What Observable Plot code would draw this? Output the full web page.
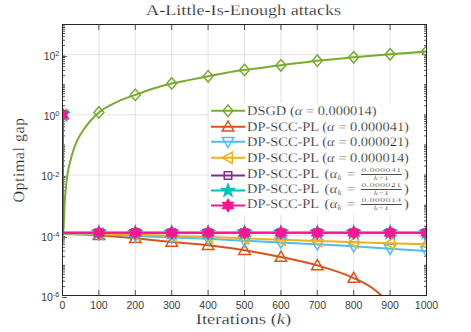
<!DOCTYPE html>
<html><head><meta charset="utf-8">
<script src="https://cdn.jsdelivr.net/npm/d3@7"></script>
<script src="https://cdn.jsdelivr.net/npm/@observablehq/plot@0.6"></script>
<style>
body{margin:0;background:#fff}
#wrap{position:relative;width:471px;height:332px;overflow:hidden}
.serif{font-family:"Liberation Serif","Times New Roman",serif;color:#262626;white-space:nowrap;text-rendering:geometricPrecision;-webkit-text-stroke:0.2px #fff}
#title{position:absolute;left:62px;width:364px;top:2px;text-align:center;font-size:15px;line-height:18px}
#title span{display:inline-block;transform:scaleX(1.21)}
#xlab{position:absolute;left:62px;width:364px;top:311px;text-align:center;font-size:15px;line-height:18px}
#xlab span{display:inline-block;transform:scaleX(1.24)}
#ylab{position:absolute;left:-80px;width:200px;top:150.5px;text-align:center;font-size:16px;line-height:18px;letter-spacing:0.5px;transform:rotate(-90deg)}
#legend{position:absolute;left:209px;top:103px;width:215px;height:112px;background:#fff}
.row{display:flex;align-items:center;height:15.5px}
.row.f{height:15px}
.row.first{margin-top:2.5px}
.row svg{flex:none}
.txt{display:inline-block;font-size:13px;line-height:13px;transform:scaleX(1.11);transform-origin:left center}
.frac{display:inline-flex;flex-direction:column;vertical-align:middle;font-size:7.5px;line-height:6px;text-align:center;margin:0 4px 0 6px;position:relative;top:-0.5px;transform:scale(1.15,0.82)}
.frac .num{border-bottom:0.8px solid #262626;padding:0 0.5px 1.2px;letter-spacing:0.4px}
.frac .den{padding-top:1.2px;letter-spacing:0.3px}
.paren{font-size:13px;vertical-align:0;margin:0 0.5px}
.paren.l{margin-left:2px}
.eq{margin:0 1.5px}
sub{font-size:8px;vertical-align:-2px;line-height:0}
</style>
</head><body>
<div id="wrap">
  <div id="chart"></div>
  <div id="title" class="serif"><span>A-Little-Is-Enough attacks</span></div>
  <div id="xlab" class="serif"><span>Iterations (<i>k</i>)</span></div>
  <div id="ylab" class="serif">Optimal gap</div>
  <div id="legend" class="serif"></div>
</div>
<script>
// ---------- data ----------
const seriesNames = [
  "DSGD (α = 0.000014)",
  "DP-SCC-PL (α = 0.000041)",
  "DP-SCC-PL (α = 0.000021)",
  "DP-SCC-PL (α = 0.000014)",
  "DP-SCC-PL (α_k = 0.000041/(k+1))",
  "DP-SCC-PL (α_k = 0.000021/(k+1))",
  "DP-SCC-PL (α_k = 0.000014/(k+1))"
];
const seriesColors = ["#77AC30","#D95319","#4DBEEE","#EDB120","#7E2F8E","#00BFBF","#FF1493"];
const xTicks = [0,100,200,300,400,500,600,700,800,900,1000];
const yTicks = [1e-6,1e-4,1e-2,1e0,1e2];
const yTickLabels = ["10^-6","10^-4","10^-2","10^0","10^2"];

const dsgdK   = [0,3,6,10,14,20,32,45,60,80,100,150,200,250,300,350,400,450,500,600,700,800,900,1000];
const dsgdGap = [5e-5,2e-4,1.2e-3,4.5e-3,1.1e-2,2.5e-2,8e-2,0.18,0.35,0.7,1.2,2.7,4.6,7.5,11,14.5,19,25,31,44,63,81,102,126];
const dsgdMarkK = [100,200,300,400,500,600,700,800,900,1000];

const plK   = [0,1,100,200,300,400,500,600,700,800,900,1000];
const plMarkK = [0,100,200,300,400,500,600,700,800,900,1000];
const pl041K   = [0,1,100,200,300,400,500,600,700,800,850,880,900,1000];
const pl041Gap = [1,1.17e-4,1.0e-4,7.9e-5,6.0e-5,4.7e-5,3.2e-5,1.9e-5,1.0e-5,3.8e-6,1.8e-6,9e-7,5e-7,1e-8];
const pl021Gap = [1,1.17e-4,1.07e-4,9.5e-5,8.5e-5,7.6e-5,6.6e-5,5.8e-5,5.0e-5,4.3e-5,3.6e-5,3.0e-5];
const pl014Gap = [1,1.2e-4,1.12e-4,1.05e-4,9.5e-5,8.7e-5,7.9e-5,7.1e-5,6.5e-5,5.9e-5,5.4e-5,5.0e-5];
const dim041Gap = [1,1.22e-4,1.22e-4,1.22e-4,1.22e-4,1.22e-4,1.22e-4,1.22e-4,1.22e-4,1.22e-4,1.22e-4,1.22e-4];
const dim021Gap = [1,1.22e-4,1.22e-4,1.22e-4,1.22e-4,1.22e-4,1.22e-4,1.22e-4,1.22e-4,1.22e-4,1.22e-4,1.22e-4];
const dim014Gap = [1,1.22e-4,1.22e-4,1.22e-4,1.22e-4,1.22e-4,1.22e-4,1.22e-4,1.22e-4,1.22e-4,1.22e-4,1.22e-4];

// ---------- symbols ----------
function poly(pts){return {draw(ctx,size){const r=Math.sqrt(size/Math.PI);pts.forEach(([x,y],i)=>i?ctx.lineTo(x*r,y*r):ctx.moveTo(x*r,y*r));ctx.closePath();}};}
function star(n,outer,inner){const pts=[];for(let i=0;i<2*n;i++){const a=-Math.PI/2+i*Math.PI/n;const R=i%2?inner:outer;pts.push([R*Math.cos(a),R*Math.sin(a)]);}return poly(pts);}
const symDiamond = poly([[0,-1.15],[1.0,0],[0,1.15],[-1.0,0]]);
const symTriUp   = poly([[0,-1.15],[1.15,0.85],[-1.15,0.85]]);
const symTriDown = poly([[0,1.15],[1.15,-0.85],[-1.15,-0.85]]);
const symTriLeft = poly([[-1.15,0],[0.85,-1.15],[0.85,1.15]]);
const symSquare  = poly([[-0.75,-0.75],[0.75,-0.75],[0.75,0.75],[-0.75,0.75]]);
const symPenta   = star(5,1.3,0.5);
const symHexa    = star(6,1.2,0.69);
const seriesSymbols = [symDiamond,symTriUp,symTriDown,symTriLeft,symSquare,symPenta,symHexa];
const seriesFilled  = [false,false,false,false,false,true,true];

const seriesData = [
  [dsgdK, dsgdGap, dsgdMarkK],
  [pl041K, pl041Gap, plMarkK],
  [plK, pl021Gap, plMarkK],
  [plK, pl014Gap, plMarkK],
  [plK, dim041Gap, plMarkK],
  [plK, dim021Gap, plMarkK],
  [plK, dim014Gap, plMarkK]
];

const R = 5;
const seriesMarks = [];
seriesData.forEach(([ks,gaps,mk],i)=>{
  const rows = ks.map((k,j)=>({k,gap:gaps[j]}));
  const marks = rows.filter(d=>mk.includes(d.k));
  seriesMarks.push(Plot.line(rows,{x:"k",y:"gap",stroke:seriesColors[i],strokeWidth:2,curve:"monotone-x",clip:true}));
  seriesMarks.push(Plot.dot(marks,{x:"k",y:"gap",r:R,symbol:seriesSymbols[i],stroke:seriesColors[i],strokeWidth:1.5,fill:seriesFilled[i]?seriesColors[i]:"none",clip:true}));
});

const yMinor = [];
for (let e=-6;e<=2;e++){ for(let m=2;m<=9;m++) yMinor.push(m*Math.pow(10,e)); if(e%2!==0) yMinor.push(Math.pow(10,e)); }
const gridStyle = {stroke:"#262626",strokeOpacity:0.13,strokeWidth:1};
const tickStyle = {stroke:"#262626",strokeWidth:0.8};

const chart = Plot.plot({
  width:471, height:332,
  marginLeft:62, marginRight:45, marginTop:24, marginBottom:37,
  x:{domain:[0,1000],label:null},
  y:{type:"log",domain:[1e-6,1e3],label:null},
  style:{fontFamily:"'Liberation Sans',Arial,sans-serif",fontSize:"10.5px",color:"#3c3c3c",background:"#fff"},
  marks:[
    Plot.gridX(xTicks,gridStyle),
    Plot.gridY(yTicks,gridStyle),
    Plot.axisX(xTicks,{anchor:"bottom",tickSize:-5,tickPadding:11,label:null,tickFormat:d=>String(d),...tickStyle}),
    Plot.axisX(xTicks,{anchor:"top",tickSize:-5,label:null,tickFormat:()=>"",...tickStyle}),
    Plot.axisY(yTicks,{anchor:"left",tickSize:-5,tickPadding:8,label:null,tickFormat:d=>yTickLabels[yTicks.indexOf(d)],dy:2,...tickStyle}),
    Plot.axisY(yMinor,{anchor:"left",tickSize:-3,label:null,tickFormat:()=>"",...tickStyle}),
    Plot.axisY(yTicks,{anchor:"right",tickSize:-5,label:null,tickFormat:()=>"",...tickStyle}),
    Plot.axisY(yMinor,{anchor:"right",tickSize:-3,label:null,tickFormat:()=>"",...tickStyle}),
    ...seriesMarks,
    Plot.frame({stroke:"#262626",strokeWidth:1})
  ]
});
document.getElementById("chart").appendChild(chart);

// superscripts on y tick labels
chart.querySelectorAll("text").forEach(t=>{
  const s=t.textContent;
  if(/^10\^/.test(s)){
    const exp=s.slice(3);
    t.textContent="";
    const ns="http://www.w3.org/2000/svg";
    const a=document.createElementNS(ns,"tspan");a.textContent="10";
    const b=document.createElementNS(ns,"tspan");b.textContent=exp;
    b.setAttribute("dy","-0.5em");b.setAttribute("font-size","7.5px");
    t.appendChild(a);t.appendChild(b);
  }
});

// ---------- legend ----------
function fracLabel(num){
  return 'DP-SCC-PL <span class="paren l">(</span><i>α</i><sub><i>k</i></sub> <span class="eq">=</span><span class="frac"><span class="num">'+num+'</span><span class="den"><i>k</i>+1</span></span><span class="paren">)</span>';
}
const legendHTML = [
  'DSGD (<i>α</i> = 0.000014)',
  'DP-SCC-PL (<i>α</i> = 0.000041)',
  'DP-SCC-PL (<i>α</i> = 0.000021)',
  'DP-SCC-PL (<i>α</i> = 0.000014)',
  fracLabel("0.000041"),
  fracLabel("0.000021"),
  fracLabel("0.000014")
];
const leg = document.getElementById("legend");
seriesNames.forEach((name,i)=>{
  const row=document.createElement("div");
  row.className="row"+(i>=4?" f":"")+(i===4?" first":"");
  const h = i>=4?15:15.5;
  const p=d3.path(); seriesSymbols[i].draw(p,R*R*Math.PI);
  const fill = seriesFilled[i]?seriesColors[i]:"none";
  row.innerHTML=`<svg width="38" height="${h}"><line x1="2" x2="36" y1="${h/2}" y2="${h/2}" stroke="${seriesColors[i]}" stroke-width="2"/><path transform="translate(19,${h/2})" d="${p.toString()}" fill="${fill}" stroke="${seriesColors[i]}" stroke-width="1.5"/></svg><span class="txt" title="${name}">${legendHTML[i]}</span>`;
  leg.appendChild(row);
});
</script>
</body></html>
